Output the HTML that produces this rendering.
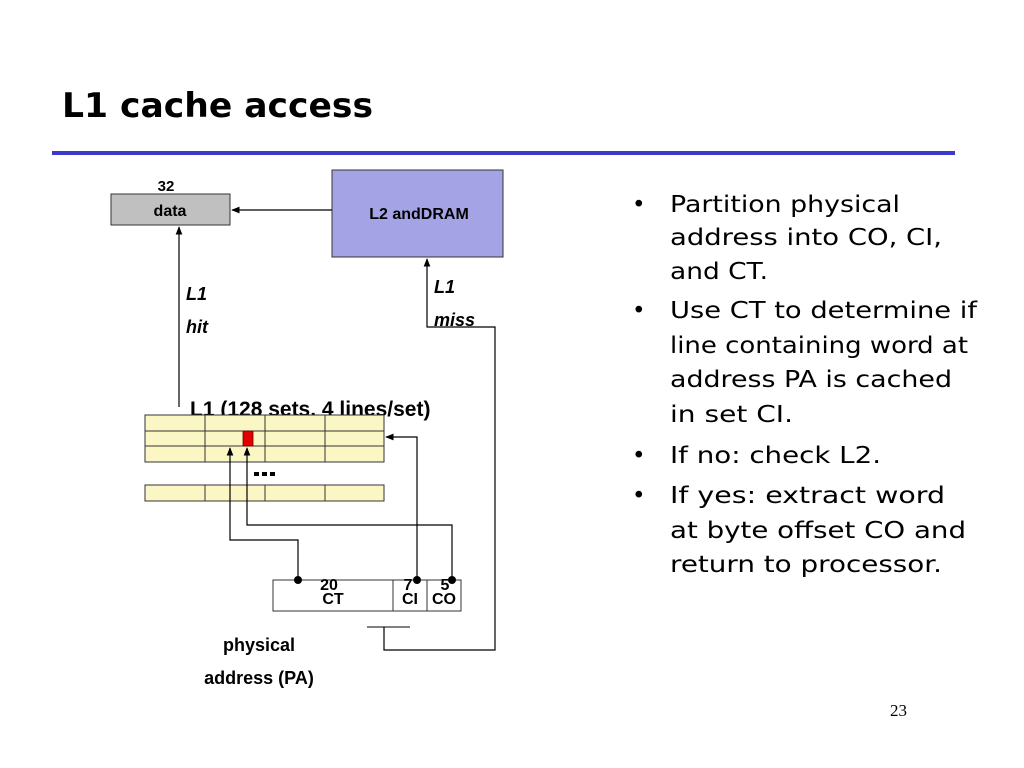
<!DOCTYPE html>
<html><head><meta charset="utf-8"><style>
html,body{margin:0;padding:0;background:#fff;}
svg{display:block;}
</style></head><body>
<svg width="1024" height="768" viewBox="0 0 1024 768" xmlns="http://www.w3.org/2000/svg">
<defs>
<marker id="ah" viewBox="0 0 10 10" refX="9" refY="5" markerWidth="7" markerHeight="7" orient="auto"><path d="M0,1 L10,5 L0,9 z" fill="#000"/></marker>
</defs>
<rect width="1024" height="768" fill="#fff"/>
<text x="62" y="117" font-family="DejaVu Sans, Liberation Sans, sans-serif" font-weight="bold" font-size="34" textLength="311" lengthAdjust="spacingAndGlyphs">L1 cache access</text>
<rect x="52" y="151" width="903" height="4" fill="#3a3acc"/>

<g font-family="Liberation Sans, sans-serif" font-weight="bold">
<!-- data box -->
<rect x="111" y="194" width="119" height="31" fill="#c0c0c0" stroke="#333" stroke-width="1"/>
<text x="166" y="191" font-size="15" text-anchor="middle">32</text>
<text x="170" y="216" font-size="16" text-anchor="middle">data</text>
<!-- L2 box -->
<rect x="332" y="170" width="171" height="87" fill="#a3a3e6" stroke="#333" stroke-width="1"/>
<text x="419" y="219" font-size="16" text-anchor="middle">L2 andDRAM</text>
<line x1="332" y1="210" x2="232" y2="210" stroke="#000" stroke-width="1.2" marker-end="url(#ah)"/>
<!-- L1 hit -->
<line x1="179" y1="407" x2="179" y2="227" stroke="#000" stroke-width="1.2" marker-end="url(#ah)"/>
<text x="186" y="300" font-size="18" font-style="italic">L1</text>
<text x="186" y="333" font-size="18" font-style="italic">hit</text>
<!-- L1 miss -->
<polyline points="367,627 410,627" fill="none" stroke="#000" stroke-width="1"/>
<polyline points="384,627 384,650 495,650 495,327 427,327 427,259" fill="none" stroke="#000" stroke-width="1.2" marker-end="url(#ah)"/>
<text x="434" y="293" font-size="18" font-style="italic">L1</text>
<text x="434" y="326" font-size="18" font-style="italic">miss</text>

<text x="190" y="416" font-size="21">L1 (128 sets, 4 lines/set)</text>
<!-- cache grid -->
<g stroke="#333" stroke-width="1" fill="#fbf7c4">
<rect x="145" y="415" width="239" height="47"/>
<rect x="145" y="485" width="239" height="16"/>
</g>
<g stroke="#333" stroke-width="1">
<line x1="145" y1="431" x2="384" y2="431"/><line x1="145" y1="446" x2="384" y2="446"/>
<line x1="205" y1="415" x2="205" y2="462"/><line x1="265" y1="415" x2="265" y2="462"/><line x1="325" y1="415" x2="325" y2="462"/>
<line x1="205" y1="485" x2="205" y2="501"/><line x1="265" y1="485" x2="265" y2="501"/><line x1="325" y1="485" x2="325" y2="501"/>
</g>
<rect x="243" y="431" width="10" height="15" fill="#e00000" stroke="#600" stroke-width="0.8"/>
<g fill="#000"><rect x="254" y="472" width="5" height="4"/><rect x="262" y="472" width="5" height="4"/><rect x="270" y="472" width="5" height="4"/></g>
<!-- PA box -->
<rect x="273" y="580" width="188" height="31" fill="#fff" stroke="#333" stroke-width="1"/>
<line x1="393" y1="580" x2="393" y2="611" stroke="#333"/>
<line x1="427" y1="580" x2="427" y2="611" stroke="#333"/>
<text x="333" y="604" font-size="16" text-anchor="middle">CT</text>
<text x="410" y="604" font-size="16" text-anchor="middle">CI</text>
<text x="444" y="604" font-size="16" text-anchor="middle">CO</text>
<text x="329" y="590" font-size="16" text-anchor="middle">20</text>
<text x="408" y="590" font-size="16" text-anchor="middle">7</text>
<text x="445" y="590" font-size="16" text-anchor="middle">5</text>
<!-- connectors -->
<polyline points="298,580 298,540 230,540 230,448" fill="none" stroke="#000" stroke-width="1.2" marker-end="url(#ah)"/>
<polyline points="452,580 452,525 247,525 247,448" fill="none" stroke="#000" stroke-width="1.2" marker-end="url(#ah)"/>
<polyline points="417,580 417,437 386,437" fill="none" stroke="#000" stroke-width="1.2" marker-end="url(#ah)"/>
<circle cx="298" cy="580" r="4"/><circle cx="417" cy="580" r="4"/><circle cx="452" cy="580" r="4"/>
<text x="259" y="651" font-size="18" text-anchor="middle">physical</text>
<text x="259" y="684" font-size="18" text-anchor="middle">address (PA)</text>
</g>

<g font-family="DejaVu Sans, Liberation Sans, sans-serif" font-size="23" fill="#000" lengthAdjust="spacingAndGlyphs">
<text x="632" y="212">•</text><text x="632" y="318">•</text><text x="632" y="463">•</text><text x="632" y="503">•</text>
<text x="670" y="212" textLength="230" lengthAdjust="spacingAndGlyphs">Partition physical</text>
<text x="670" y="245" textLength="272" lengthAdjust="spacingAndGlyphs">address into CO, CI,</text>
<text x="670" y="279" textLength="98" lengthAdjust="spacingAndGlyphs">and CT.</text>
<text x="670" y="318" textLength="307" lengthAdjust="spacingAndGlyphs">Use CT to determine if</text>
<text x="670" y="353" textLength="298" lengthAdjust="spacingAndGlyphs">line containing word at</text>
<text x="670" y="387" textLength="282" lengthAdjust="spacingAndGlyphs">address PA is cached</text>
<text x="670" y="422" textLength="123" lengthAdjust="spacingAndGlyphs">in set CI.</text>
<text x="670" y="463" textLength="211" lengthAdjust="spacingAndGlyphs">If no: check L2.</text>
<text x="670" y="503" textLength="275" lengthAdjust="spacingAndGlyphs">If yes: extract word</text>
<text x="670" y="538" textLength="296" lengthAdjust="spacingAndGlyphs">at byte offset CO and</text>
<text x="670" y="572" textLength="272" lengthAdjust="spacingAndGlyphs">return to processor.</text>
</g>
<text x="890" y="716" font-family="Liberation Serif, serif" font-size="17">23</text>
</svg>
</body></html>
